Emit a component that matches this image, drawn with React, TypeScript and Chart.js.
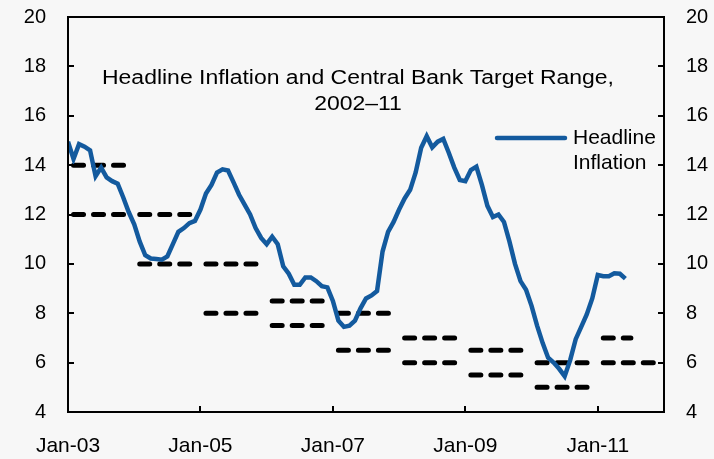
import React, { useEffect, useRef } from "react";
import { Chart, registerables } from "chart.js";

Chart.register(...registerables);

// Monthly headline inflation, Jan-03 onward (percent, year over year)
const inflation = [
  14.95, 14.25, 14.85, 14.75, 14.6, 13.55, 13.9, 13.5, 13.35, 13.25, 12.7, 12.1,
  11.6, 10.9, 10.35, 10.22, 10.2, 10.17, 10.3, 10.8, 11.3, 11.45, 11.65, 11.74,
  12.2, 12.85, 13.2, 13.7, 13.83, 13.78, 13.3, 12.8, 12.4, 12.0, 11.45, 11.05,
  10.8, 11.1, 10.8, 9.9, 9.6, 9.15, 9.15, 9.45, 9.45, 9.3, 9.1, 9.05,
  8.5, 7.7, 7.45, 7.5, 7.7, 8.2, 8.6, 8.72, 8.9, 10.5, 11.3, 11.7,
  12.2, 12.65, 13.0, 13.7, 14.7, 15.17, 14.72, 14.95, 15.06, 14.5, 13.9, 13.4,
  13.35, 13.8, 13.94, 13.2, 12.35, 11.9, 12.0, 11.7, 10.9, 10.0, 9.3, 8.95,
  8.3, 7.5, 6.8, 6.2, 6.0, 5.75, 5.45, 6.1, 6.95, 7.45, 7.95, 8.6,
  9.55, 9.5, 9.5, 9.62, 9.6, 9.4,
];

// Central bank target range by year (Feb–Dec of each year)
const targetYears = [2003, 2004, 2005, 2006, 2007, 2008, 2009, 2010, 2011];
const targetLow = [12, 10, 8, 7.5, 6.5, 6, 5.5, 5, 6];
const targetHigh = [14, 12, 10, 8.5, 8, 7, 6.5, 6, 7];
const targetStartMonth = [2, 2, 2, 2, 2, 2, 2, 2, 2];
const targetLowEndMonth = [12, 12, 12, 12, 12, 12, 12, 12, 12];
const targetHighEndMonth = [12, 12, 12, 12, 12, 12, 12, 12, 7];

// Axis ticks
const xTickLabels = ["Jan-03", "Jan-05", "Jan-07", "Jan-09", "Jan-11"];
const yTicks = [4, 6, 8, 10, 12, 14, 16, 18, 20];

const titleLines = ["Headline Inflation and Central Bank Target Range,", "2002–11"];
const legendLines = ["Headline", "Inflation"];

const BLUE = "#135a9e";
const FONT = "'Liberation Sans', Arial, sans-serif";
const BASE_YEAR = 2003;
const X_MAX = 108;

const monthIndex = (year: number, month: number) => (year - BASE_YEAR) * 12 + (month - 1);

export default function App() {
  const ref = useRef<HTMLCanvasElement | null>(null);

  useEffect(() => {
    document.body.style.margin = "0";
    document.body.style.background = "#f7f7f7";
    const canvas = ref.current;
    if (!canvas) return;

    const datasets: any[] = [];
    datasets.push({
      label: "Headline Inflation",
      data: inflation.map((v, i) => ({ x: i, y: v })),
      borderColor: BLUE,
      borderWidth: 4.5,
      pointRadius: 0,
      tension: 0,
      fill: false,
      order: 0,
    });
    targetYears.forEach((yr, k) => {
      const mk = (val: number, endM: number) => ({
        label: `Target ${yr} ${val}`,
        data: [
          { x: monthIndex(yr, targetStartMonth[k]), y: val },
          { x: monthIndex(yr, endM), y: val },
        ],
        borderColor: "#000000",
        borderWidth: 5,
        borderDash: [10, 10],
        borderCapStyle: "round",
        pointRadius: 0,
        fill: false,
        order: 1,
      });
      datasets.push(mk(targetHigh[k], targetHighEndMonth[k]));
      datasets.push(mk(targetLow[k], targetLowEndMonth[k]));
    });

    const framePlugin = {
      id: "frameAndText",
      afterDraw(chart: any) {
        const { ctx, chartArea: a } = chart;
        const ys = chart.scales.y;
        const xs = chart.scales.x;
        ctx.save();
        ctx.strokeStyle = "#000";
        ctx.lineWidth = 2;
        ctx.strokeRect(a.left, a.top, a.right - a.left, a.bottom - a.top);
        ctx.beginPath();
        yTicks.forEach((v) => {
          const y = Math.round(ys.getPixelForValue(v));
          ctx.moveTo(a.left, y);
          ctx.lineTo(a.left + 6, y);
          ctx.moveTo(a.right - 6, y);
          ctx.lineTo(a.right, y);
        });
        xTickLabels.forEach((_, i) => {
          const x = Math.round(xs.getPixelForValue(i * 24));
          ctx.moveTo(x, a.bottom);
          ctx.lineTo(x, a.bottom - 6);
        });
        ctx.stroke();

        // title inside plot (horizontally widened text)
        ctx.fillStyle = "#000";
        ctx.font = `20px ${FONT}`;
        ctx.textAlign = "center";
        ctx.textBaseline = "middle";
        const drawWide = (txt: string, cx: number, cy: number, sx: number) => {
          ctx.save();
          ctx.translate(cx, cy);
          ctx.scale(sx, 1);
          ctx.fillText(txt, 0, 0);
          ctx.restore();
        };
        const w1 = ctx.measureText(titleLines[0]).width;
        const sx = 512 / w1;
        const cx = a.left + 290;
        drawWide(titleLines[0], cx, a.top + 61, sx);
        drawWide(titleLines[1], cx, a.top + 87, sx);

        // legend inside plot
        const ly = a.top + 121;
        ctx.strokeStyle = BLUE;
        ctx.lineWidth = 4.5;
        ctx.lineCap = "round";
        ctx.beginPath();
        ctx.moveTo(a.left + 429, ly);
        ctx.lineTo(a.left + 497, ly);
        ctx.stroke();
        ctx.font = `21px ${FONT}`;
        ctx.textAlign = "left";
        ctx.fillText(legendLines[0], a.left + 505, ly);
        ctx.fillText(legendLines[1], a.left + 505, ly + 25);
        ctx.restore();
      },
    };

    const yCommon = {
      min: 4,
      max: 20,
      ticks: {
        stepSize: 2,
        color: "#000",
        font: { family: FONT, size: 20 },
        padding: 22,
      },
      grid: { display: false, drawTicks: false },
      border: { display: false },
    };

    const chart = new Chart(canvas, {
      type: "line",
      data: { datasets },
      options: {
        animation: false,
        responsive: false,
        maintainAspectRatio: false,
        layout: { padding: { top: 17, left: 0, right: 0, bottom: 0 } },
        plugins: { legend: { display: false }, title: { display: false }, tooltip: { enabled: false } },
        scales: {
          x: {
            type: "linear",
            min: 0,
            max: X_MAX,
            ticks: {
              stepSize: 24,
              autoSkip: false,
              maxRotation: 0,
              color: "#000",
              font: { family: FONT, size: 21 },
              padding: 22,
              callback: (v: any) => {
                const i = Math.round(Number(v) / 24);
                return Number(v) % 24 === 0 && i < xTickLabels.length ? xTickLabels[i] : "";
              },
            },
            grid: { display: false, drawTicks: false },
            border: { display: false },
            afterFit: (s: any) => {
              s.height = 47;
              s.paddingLeft = 0;
              s.paddingRight = 0;
            },
          },
          y: {
            ...yCommon,
            position: "left",
            afterFit: (s: any) => {
              s.width = 68;
              s.paddingTop = 0;
              s.paddingBottom = 0;
            },
          },
          y2: {
            ...yCommon,
            position: "right",
            afterFit: (s: any) => {
              s.width = 50;
              s.paddingTop = 0;
              s.paddingBottom = 0;
            },
          },
        },
      },
      plugins: [framePlugin],
    } as any);

    return () => chart.destroy();
  }, []);

  return (
    <div style={{ position: "absolute", left: 0, top: 0, width: 714, height: 459 }}>
      <canvas ref={ref} width={714} height={459} style={{ width: 714, height: 459 }} />
    </div>
  );
}
